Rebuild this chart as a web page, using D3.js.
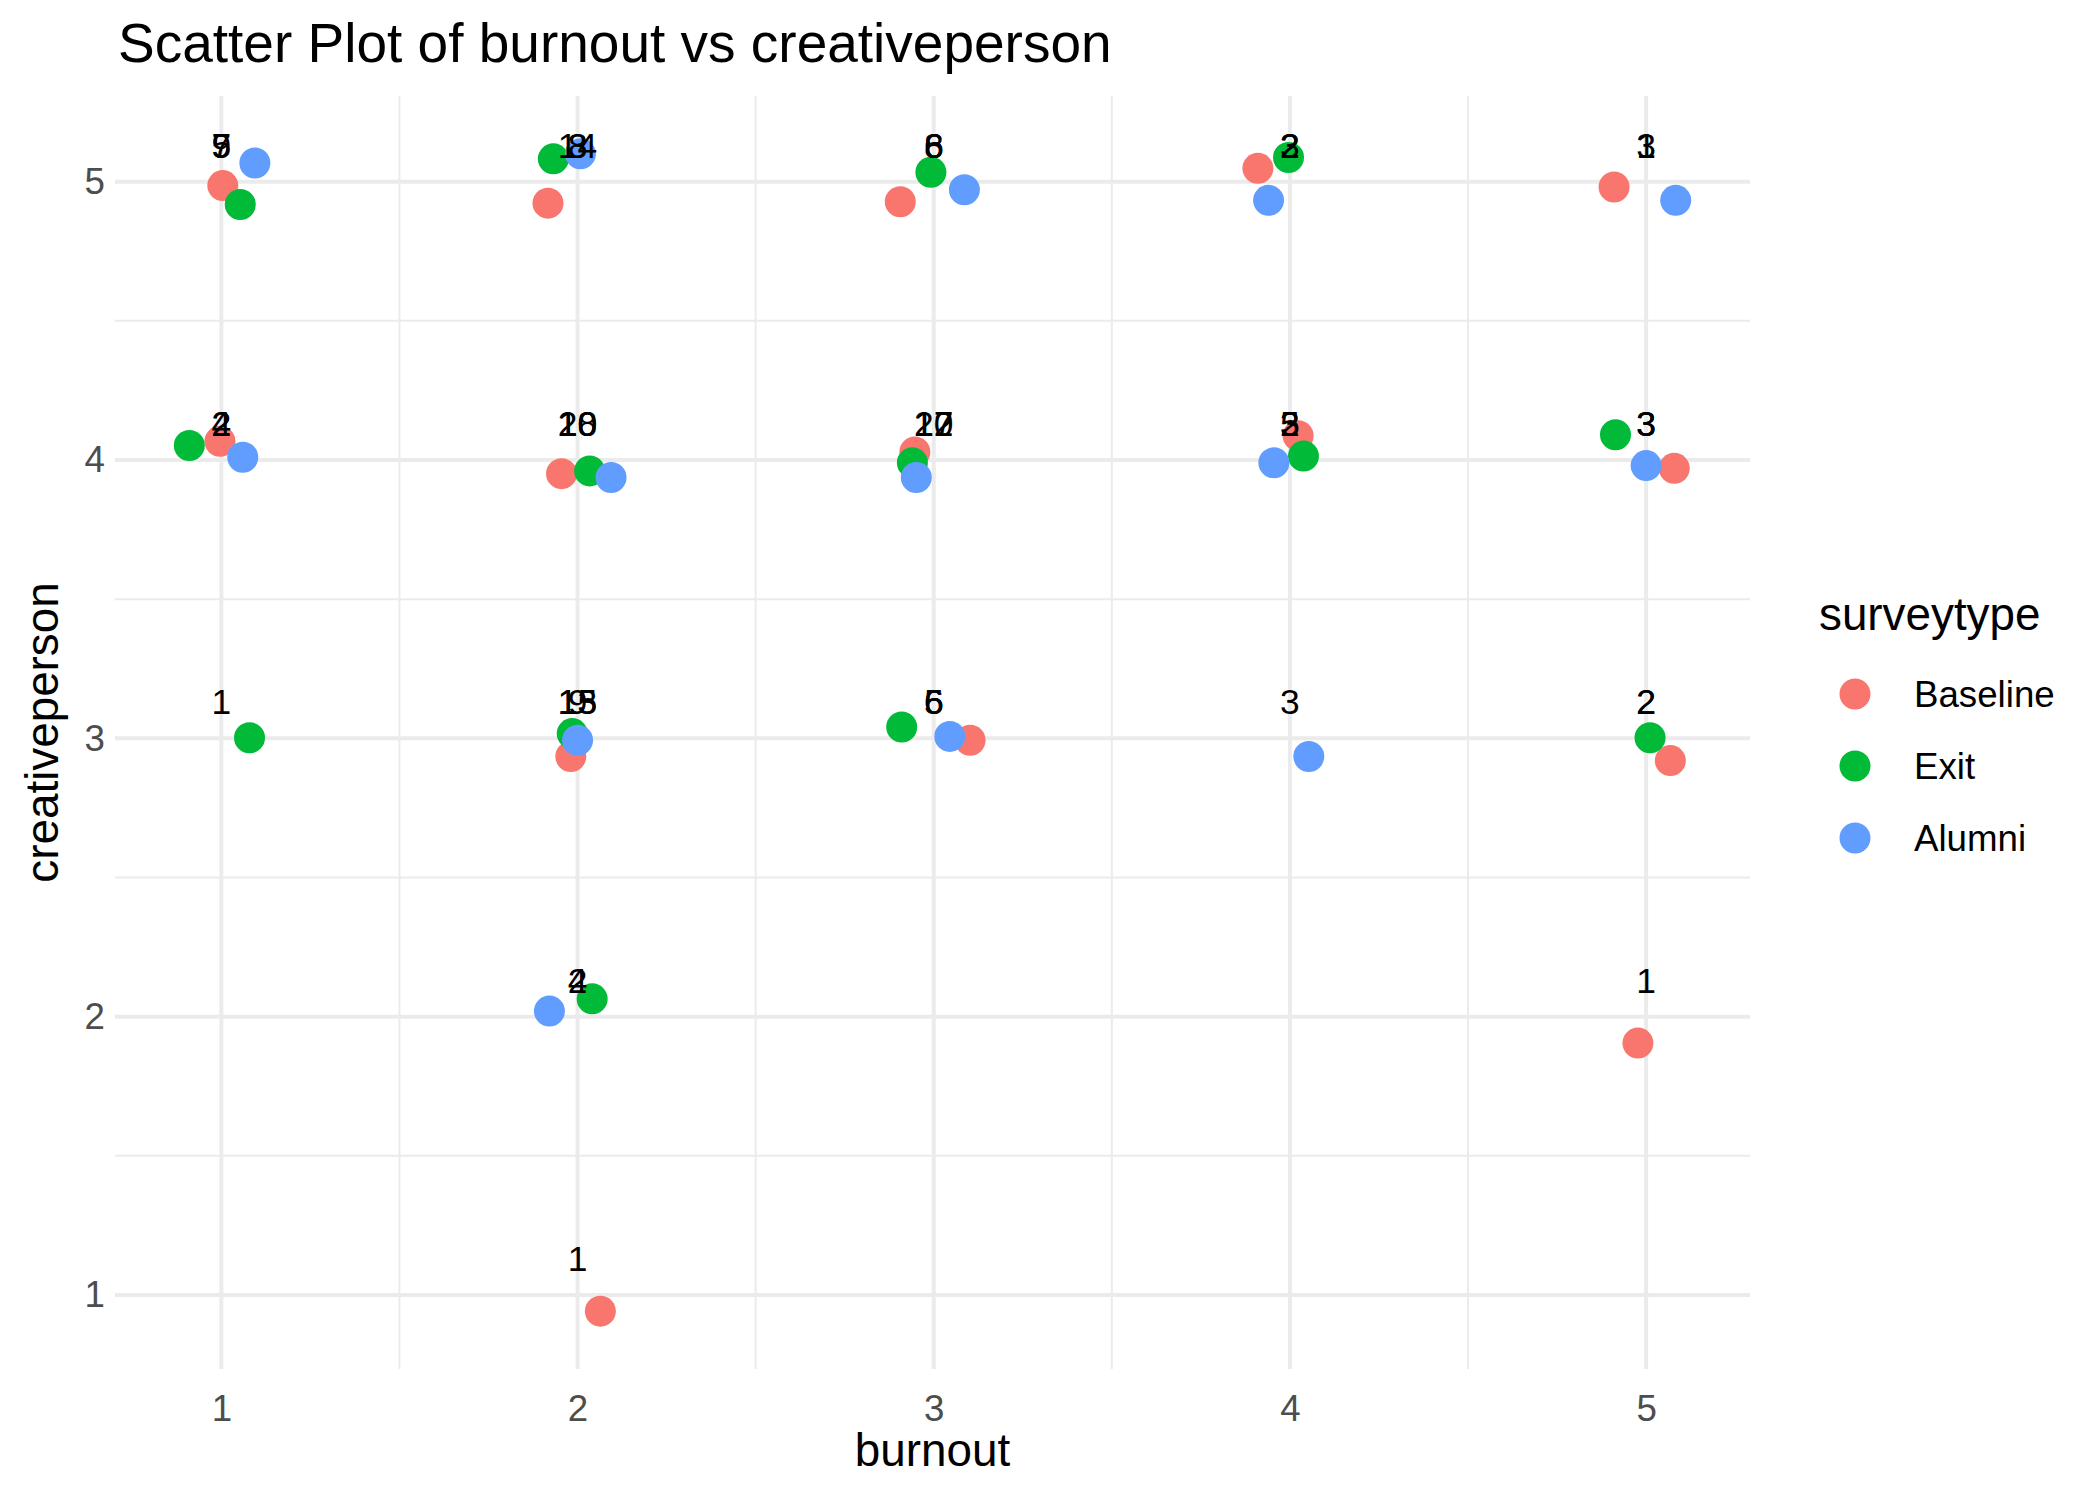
<!DOCTYPE html>
<html>
<head>
<meta charset="utf-8">
<script src="https://cdn.jsdelivr.net/npm/d3@7"></script>
<style>
  html, body { margin: 0; padding: 0; background: #ffffff; }
  svg { display: block; }
  text { font-family: "Liberation Sans", Arial, Helvetica, sans-serif; }
</style>
</head>
<body>
<script>
// ---------------- DATA ----------------
const surveyTypes = ["Baseline", "Exit", "Alumni"];
const surveyColors = ["#F8766D", "#00BA38", "#619CFF"];

// one row per (surveytype, burnout, creativeperson) group
const ptType     = ["Baseline","Exit","Alumni", "Baseline","Exit","Alumni", "Baseline","Exit","Alumni", "Baseline","Exit","Alumni", "Baseline","Alumni",
                    "Baseline","Exit","Alumni", "Baseline","Exit","Alumni", "Baseline","Exit","Alumni", "Baseline","Exit","Alumni", "Baseline","Exit","Alumni",
                    "Exit", "Baseline","Exit","Alumni", "Baseline","Exit","Alumni", "Alumni", "Baseline","Exit",
                    "Exit","Alumni", "Baseline",
                    "Baseline"];
const ptBurnout  = [1,1,1, 2,2,2, 3,3,3, 4,4,4, 5,5,
                    1,1,1, 2,2,2, 3,3,3, 4,4,4, 5,5,5,
                    1, 2,2,2, 3,3,3, 4, 5,5,
                    2,2, 5,
                    2];
const ptCreative = [5,5,5, 5,5,5, 5,5,5, 5,5,5, 5,5,
                    4,4,4, 4,4,4, 4,4,4, 4,4,4, 4,4,4,
                    3, 3,3,3, 3,3,3, 3, 3,3,
                    2,2, 2,
                    1];
// jittered positions as drawn
const ptJitterX  = [1.004,1.053,1.094, 1.917,1.932,2.008, 2.906,2.992,3.086, 3.910,3.996,3.940, 4.910,5.083,
                    0.996,0.910,1.060, 1.955,2.034,2.094, 2.947,2.940,2.951, 4.023,4.038,3.955, 5.079,4.914,5.000,
                    1.079, 1.981,1.985,2.000, 3.102,2.910,3.045, 4.053, 5.068,5.011,
                    2.041,1.921, 4.977,
                    2.064];
const ptJitterY  = [4.986,4.918,5.067, 4.923,5.082,5.100, 4.928,5.034,4.971, 5.048,5.087,4.933, 4.981,4.933,
                    4.067,4.052,4.010, 3.951,3.961,3.937, 4.029,3.990,3.937, 4.087,4.014,3.990, 3.970,4.091,3.980,
                    3.002, 2.935,3.017,2.993, 2.993,3.041,3.007, 2.935, 2.920,3.002,
                    2.064,2.020, 1.905,
                    0.942];
const ptCount    = [5,9,7, 14,8,3, 8,6,6, 3,2,2, 3,1,
                    2,4,2, 20,18,10, 27,12,10, 5,3,2, 3,3,3,
                    1, 15,13,9, 5,6,6, 3, 2,2,
                    2,4, 1,
                    1];

const xTicks = [1, 2, 3, 4, 5];
const yTicks = [1, 2, 3, 4, 5];
const titleText = "Scatter Plot of burnout vs creativeperson";
const xTitle = "burnout";
const yTitle = "creativeperson";
const legendTitle = "surveytype";

// ---------------- LAYOUT ----------------
const W = 2100, H = 1499;
const panel = { left: 115, right: 1750, top: 96, bottom: 1369 };

const points = ptType.map((t, i) => ({
  type: t, bx: ptBurnout[i], cy: ptCreative[i],
  jx: ptJitterX[i], jy: ptJitterY[i], n: ptCount[i]
}));

function expand(ext) { const d = (ext[1] - ext[0]) * 0.05; return [ext[0] - d, ext[1] + d]; }

const x = d3.scaleLinear().domain(expand(d3.extent(ptJitterX))).range([panel.left, panel.right]);
const y = d3.scaleLinear().domain(expand(d3.extent(ptJitterY))).range([panel.bottom, panel.top]);
const color = d3.scaleOrdinal().domain(surveyTypes).range(surveyColors);

const svg = d3.select("body").append("svg").attr("width", W).attr("height", H);
svg.append("rect").attr("width", W).attr("height", H).attr("fill", "#ffffff");

// grid
const grid = svg.append("g");
const xMinor = d3.range(xTicks.length - 1).map(i => (xTicks[i] + xTicks[i + 1]) / 2);
const yMinor = d3.range(yTicks.length - 1).map(i => (yTicks[i] + yTicks[i + 1]) / 2);
grid.selectAll(".xminor").data(xMinor).enter().append("line")
  .attr("x1", d => x(d)).attr("x2", d => x(d)).attr("y1", panel.top).attr("y2", panel.bottom)
  .attr("stroke", "#EBEBEB").attr("stroke-width", 2);
grid.selectAll(".yminor").data(yMinor).enter().append("line")
  .attr("y1", d => y(d)).attr("y2", d => y(d)).attr("x1", panel.left).attr("x2", panel.right)
  .attr("stroke", "#EBEBEB").attr("stroke-width", 2);
grid.selectAll(".xmajor").data(xTicks).enter().append("line")
  .attr("x1", d => x(d)).attr("x2", d => x(d)).attr("y1", panel.top).attr("y2", panel.bottom)
  .attr("stroke", "#EBEBEB").attr("stroke-width", 4);
grid.selectAll(".ymajor").data(yTicks).enter().append("line")
  .attr("y1", d => y(d)).attr("y2", d => y(d)).attr("x1", panel.left).attr("x2", panel.right)
  .attr("stroke", "#EBEBEB").attr("stroke-width", 4);

// axes (labels only, ggplot minimal)
const xAxis = svg.append("g").attr("transform", `translate(0,${panel.bottom})`)
  .call(d3.axisBottom(x).tickValues(xTicks).tickFormat(d3.format("d")).tickSize(0).tickPadding(26));
const yAxis = svg.append("g").attr("transform", `translate(${panel.left},0)`)
  .call(d3.axisLeft(y).tickValues(yTicks).tickFormat(d3.format("d")).tickSize(0).tickPadding(10));
[xAxis, yAxis].forEach(a => {
  a.select(".domain").remove();
  a.selectAll("text").attr("font-size", 36.7).attr("fill", "#4D4D4D")
    .attr("font-family", "Liberation Sans, Arial, sans-serif");
});

// points
svg.append("g").selectAll("circle").data(points).enter().append("circle")
  .attr("cx", d => x(d.jx)).attr("cy", d => y(d.jy)).attr("r", 15.5)
  .attr("fill", d => color(d.type));

// count labels
svg.append("g").selectAll("text").data(points).enter().append("text")
  .attr("x", d => x(d.bx)).attr("y", d => y(d.cy) - 24)
  .attr("text-anchor", "middle").attr("font-size", 35.4).attr("fill", "#000000")
  .text(d => d.n);

// titles
svg.append("text").attr("x", 118).attr("y", 62).attr("font-size", 55).attr("fill", "#000")
  .text(titleText);
svg.append("text").attr("x", (panel.left + panel.right) / 2).attr("y", 1466)
  .attr("text-anchor", "middle").attr("font-size", 45.8).attr("fill", "#000").text(xTitle);
svg.append("text").attr("transform", `translate(58,${(panel.top + panel.bottom) / 2}) rotate(-90)`)
  .attr("text-anchor", "middle").attr("font-size", 45.8).attr("fill", "#000").text(yTitle);

// legend
const leg = svg.append("g");
leg.append("text").attr("x", 1819).attr("y", 630).attr("font-size", 45.8).attr("fill", "#000").text(legendTitle);
const items = leg.selectAll(".item").data(surveyTypes).enter().append("g")
  .attr("transform", (d, i) => `translate(0,${694 + i * 72})`);
items.append("circle").attr("cx", 1855).attr("cy", 0).attr("r", 15.5).attr("fill", d => color(d));
items.append("text").attr("x", 1914).attr("y", 0).attr("dy", "0.36em")
  .attr("font-size", 36.7).attr("fill", "#000").text(d => d);
</script>
</body>
</html>
